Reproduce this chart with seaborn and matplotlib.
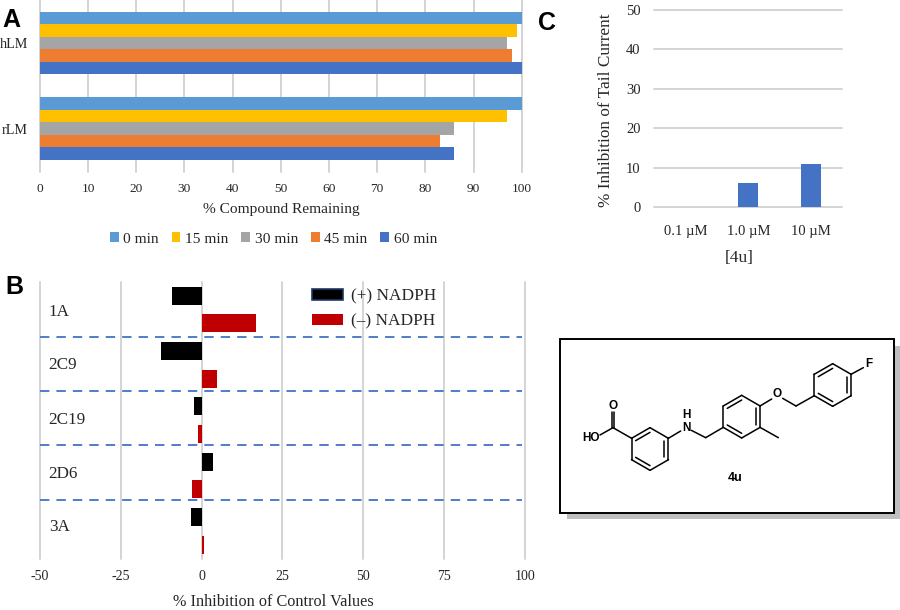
import numpy as np
import pandas as pd
import seaborn as sns
import matplotlib.pyplot as plt
from matplotlib.patches import Rectangle

# panel A
lm_types = ["hLM", "rLM"]
times = ["0 min", "15 min", "30 min", "45 min", "60 min"]
remaining_hlm = [100, 99, 97, 98, 100]
remaining_rlm = [100, 97, 86, 83, 86]
time_colors = ["#5B9BD5", "#FFC000", "#A5A5A5", "#ED7D31", "#4472C4"]

# panel B
cyps = ["1A", "2C9", "2C19", "2D6", "3A"]
nadph_plus = [-9, -12.4, -2.3, 3.5, -3.4]
nadph_minus = [16.9, 4.7, -1, -2.8, 0.7]
cyp_label_pos = [0.01, 0.97, 1.96, 2.94, 3.9]
divider_pos = [0.5, 1.47, 2.45, 3.44]

# panel C
doses = ["0.1 µM", "1.0 µM", "10 µM"]
tail_current = [0, 6, 11]

sns.set_theme(style="whitegrid")
plt.rcParams["font.family"] = ["Liberation Serif", "DejaVu Serif"]
plt.rcParams["axes.unicode_minus"] = False
plt.rcParams["axes.edgecolor"] = "#D9D9D9"
plt.rcParams["grid.color"] = "#D4D4D4"
plt.rcParams["grid.linewidth"] = 1.4
plt.rcParams["text.color"] = "#262626"
plt.rcParams["axes.labelcolor"] = "#262626"
plt.rcParams["xtick.color"] = "#262626"
plt.rcParams["ytick.color"] = "#262626"

W, H = 900, 610
fig = plt.figure(figsize=(W / 100, H / 100), dpi=100)


def axes_px(left, top, right, bottom):
    return fig.add_axes([left / W, 1 - bottom / H, (right - left) / W, (bottom - top) / H])


def label_px(axis, x, y):
    axis.set_label_coords(x / W, 1 - y / H, transform=fig.transFigure)


def clean(ax):
    sns.despine(ax=ax, left=True, bottom=True)
    ax.set_axisbelow(True)
    for line in ax.get_xgridlines() + ax.get_ygridlines():
        line.set_clip_on(False)


# A
df_a = pd.DataFrame({"lm": lm_types[0], "time": times, "value": remaining_hlm})
df_a = pd.concat([df_a, pd.DataFrame({"lm": lm_types[1], "time": times, "value": remaining_rlm})])
ax_a = axes_px(39.9, 0, 521.7, 171.5)
sns.barplot(data=df_a, y="lm", x="value", hue="time", palette=time_colors, width=0.73,
            saturation=1, linewidth=0, ax=ax_a)
ax_a.set_xlim(0, 100)
ax_a.set_xticks(range(0, 101, 10))
ax_a.grid(True, axis="x")
ax_a.grid(False, axis="y")
ax_a.tick_params(axis="x", length=0, pad=8, labelsize=9.6)
ax_a.tick_params(axis="y", length=0, pad=8.6, labelsize=10.2)
ax_a.set_ylabel("")
ax_a.set_xlabel("% Compound Remaining", fontsize=11.1, va="center")
label_px(ax_a.xaxis, 281.5, 209)
clean(ax_a)
ax_a.legend(loc="center", bbox_to_anchor=(273.5 / W, 1 - 239 / H), bbox_transform=fig.transFigure,
            ncol=5, frameon=False, fontsize=11.1, handlelength=0.55, handleheight=0.55,
            handletextpad=0.3, columnspacing=0.85, borderpad=0)

# B
df_b = pd.concat([
    pd.DataFrame({"cyp": cyps, "nadph": "(+) NADPH", "value": nadph_plus}),
    pd.DataFrame({"cyp": cyps, "nadph": "(–) NADPH", "value": nadph_minus}),
])
ax_b = axes_px(39.9, 281.7, 524.8, 558.5)
sns.barplot(data=df_b, y="cyp", x="value", hue="nadph", palette=["black", "#C00000"], width=1,
            gap=0.35, saturation=1, linewidth=0, ax=ax_b)
ax_b.set_xlim(-50, 100)
ax_b.set_xticks(range(-50, 101, 25))
ax_b.grid(True, axis="x")
ax_b.grid(False, axis="y")
ax_b.hlines(divider_pos, -50, 99, color="#4472C4", lw=1.3, linestyle=(0, (5.2, 3.9)), zorder=3)
ax_b.tick_params(axis="x", length=0, pad=8, labelsize=10)
ax_b.set_yticks(cyp_label_pos, labels=cyps)
ax_b.set_ylim(len(cyps) - 0.5, -0.5)
ax_b.tick_params(axis="y", length=0, pad=-6.3, labelsize=12.3)
for lab in ax_b.get_yticklabels():
    lab.set_ha("left")
ax_b.set_ylabel("")
ax_b.set_xlabel("% Inhibition of Control Values", fontsize=11.7, va="center")
label_px(ax_b.xaxis, 273, 601.5)
clean(ax_b)
leg_b = ax_b.legend(loc="center left", bbox_to_anchor=(311.6 / W, 1 - 309 / H),
                    bbox_transform=fig.transFigure, frameon=False, fontsize=12.4, handlelength=1.8,
                    handleheight=0.6, handletextpad=0.47, labelspacing=0.5, borderpad=0,
                    borderaxespad=0)
leg_b.legend_handles[0].set_edgecolor("#1F3864")
leg_b.legend_handles[0].set_linewidth(1.2)

# C
df_c = pd.DataFrame({"dose": doses, "value": tail_current})
ax_c = axes_px(654.3, 9.7, 842.3, 207)
sns.barplot(data=df_c, x="dose", y="value", color="#4472C4", width=0.32, saturation=1,
            linewidth=0, ax=ax_c)
ax_c.set_ylim(0, 50)
ax_c.set_yticks(range(0, 51, 10))
ax_c.grid(True, axis="y")
ax_c.grid(False, axis="x")
ax_c.tick_params(axis="x", length=0, pad=13, labelsize=10.5)
ax_c.tick_params(axis="y", length=0, pad=10, labelsize=10.5)
ax_c.set_xlabel("[4u]", fontsize=12.5, va="center")
label_px(ax_c.xaxis, 739, 258)
ax_c.set_ylabel("% Inhibition of Tail Current", fontsize=12.4, va="center")
label_px(ax_c.yaxis, 606, 110)
clean(ax_c)

# panel letters
for letter, x, y in [("A", 2, 27), ("B", 5, 294), ("C", 538, 30)]:
    fig.text(x / W, 1 - y / H, letter, family="Liberation Sans", weight="bold", fontsize=18,
             color="black", va="baseline")

# structure box, drawn in zoomed-crop coordinates converted to pixels
ov = fig.add_axes([0, 0, 1, 1], zorder=-1)
ov.set_xlim(0, W)
ov.set_ylim(H, 0)
ov.axis("off")
ov.add_patch(Rectangle((567, 346), 333, 173, fc="#BFBFBF", ec="none"))
ov.add_patch(Rectangle((560, 339), 334, 173.5, fc="white", ec="black", lw=1.4))


def bond(x1, y1, x2, y2):
    ov.plot([550 + x1 / 3, 550 + x2 / 3], [325 + y1 / 3, 325 + y2 / 3], color="black", lw=1.1,
            solid_capstyle="round")


def atom(x, y, s, size=8.5):
    ov.text(550 + x / 3, 325 + y / 3, s, family="Liberation Sans", weight="bold", fontsize=size,
            color="black", ha="center", va="center")


def ring(cx, cy, r=64):
    ang = np.radians(90 + 60 * np.arange(6))
    px = cx + r * np.cos(ang)
    py = cy - r * np.sin(ang)
    for i in range(6):
        j = (i + 1) % 6
        bond(px[i], py[i], px[j], py[j])
    for i in [0, 2, 4]:
        j = i + 1
        a = np.array([px[i], py[i]])
        b = np.array([px[j], py[j]])
        c = np.array([cx, cy])
        a2, b2 = a + 0.22 * (c - a), b + 0.22 * (c - b)
        bond(a2[0], a2[1], b2[0], b2[1])


ring(300, 372)
ring(575, 275)
ring(848, 180)
bond(245, 340, 189, 308)
bond(189, 308, 150, 330)
bond(186, 308, 186, 262)
bond(193, 308, 193, 262)
bond(355, 340, 392, 318)
bond(424, 316, 467, 338)
bond(467, 338, 520, 307)
bond(630, 307, 685, 338)
bond(630, 243, 665, 222)
bond(698, 220, 738, 243)
bond(738, 243, 793, 212)
bond(903, 148, 940, 128)
atom(190, 243, "O")
atom(122, 338, "HO")
atom(408, 308, "N")
atom(408, 270, "H")
atom(682, 208, "O")
atom(956, 116, "F")
atom(555, 458, "4u", 9)

fig.savefig("out.png", dpi=100)
